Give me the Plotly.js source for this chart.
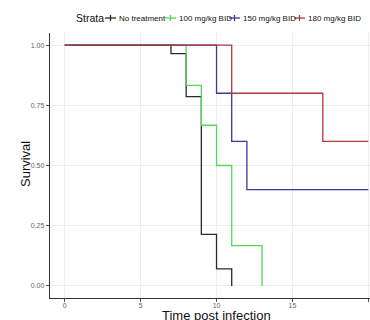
<!DOCTYPE html>
<html><head><meta charset="utf-8">
<script src="https://cdn.plot.ly/plotly-3.0.1.min.js"></script>
<style>html,body{margin:0;padding:0;background:#fff}</style>
</head><body><div id="chart" style="width:370px;height:320px"></div>
<script>
// ---- data ----
const strata = ["No treatment", "100 mg/kg BID", "150 mg/kg BID", "180 mg/kg BID"];
const timeNoTreat = [0, 7, 8, 9, 10, 11];
const survNoTreat = [1, 0.964, 0.786, 0.214, 0.071, 0];
const time100 = [0, 8, 9, 10, 11, 13];
const surv100 = [1, 0.833, 0.667, 0.5, 0.167, 0];
const time150 = [0, 10, 11, 12, 20];
const surv150 = [1, 0.8, 0.6, 0.4, 0.4];
const time180 = [0, 11, 17, 20];
const surv180 = [1, 0.8, 0.6, 0.6];
const xTicks = [0, 5, 10, 15, 20];
const yTicks = [0, 0.25, 0.5, 0.75, 1];
const yTickText = ["0.00", "0.25", "0.50", "0.75", "1.00"];

// ---- style ----
const colors = ["#2a2a2a", "#55d855", "#3a3a9e", "#b23a3a"];
const FONT = "Liberation Sans, Arial, sans-serif";
const series = [[timeNoTreat, survNoTreat], [time100, surv100], [time150, surv150], [time180, surv180]];

const traces = series.map((s, i) => ({
  x: s[0], y: s[1], type: "scatter", mode: "lines",
  line: {shape: "hv", color: colors[i], width: 1.3},
  name: strata[i], showlegend: false, hoverinfo: "skip"
}));

// pixel -> paper helpers (plot area x 50..370, y 33..298)
const L = 50, R = 370, T = 33, B = 298;
const px = p => (p - L) / (R - L);
const py = p => (B - p) / (B - T);

// manual legend layout
const legY = 18;
const keyStart = [105, 165, 229, 294];
const keyLen = 11;
const shapes = [];
const annotations = [];
annotations.push({xref: "paper", yref: "paper", x: px(74), y: py(legY), xanchor: "left", yanchor: "middle",
  text: "Strata", showarrow: false, font: {family: FONT, size: 10.5, color: "#111"}});
strata.forEach((s, i) => {
  const k = keyStart[i];
  shapes.push({type: "line", xref: "paper", yref: "paper", x0: px(k), x1: px(k + keyLen), y0: py(legY), y1: py(legY),
    line: {color: colors[i], width: 1.3}});
  shapes.push({type: "line", xref: "paper", yref: "paper", x0: px(k + keyLen / 2), x1: px(k + keyLen / 2), y0: py(legY - 3), y1: py(legY + 3),
    line: {color: colors[i], width: 1.3}});
  annotations.push({xref: "paper", yref: "paper", x: px(k + keyLen + 0.5), y: py(legY), xanchor: "left", yanchor: "middle",
    text: s, showarrow: false, font: {family: FONT, size: 8, color: "#111"}});
});
// axis titles
annotations.push({xref: "paper", yref: "paper", x: px(216.5), y: py(315), xanchor: "center", yanchor: "middle",
  text: "Time post infection", showarrow: false, font: {family: FONT, size: 13, color: "#111"}});
annotations.push({xref: "paper", yref: "paper", x: px(25), y: py(164), xanchor: "center", yanchor: "middle", textangle: -90,
  text: "Survival", showarrow: false, font: {family: FONT, size: 13, color: "#111"}});

const layout = {
  width: 370, height: 320,
  margin: {l: L, r: 370 - R, t: T, b: 320 - B, pad: 0},
  paper_bgcolor: "#fff", plot_bgcolor: "#fff",
  showlegend: false,
  font: {family: FONT},
  xaxis: {range: [-0.97, 20.11], tickvals: xTicks, ticktext: xTicks.map(String),
    showgrid: true, gridcolor: "#ededed", gridwidth: 1, zeroline: false,
    showline: true, linecolor: "#333", linewidth: 1.2,
    ticks: "outside", ticklen: 3, tickcolor: "#555", tickwidth: 1,
    ticklabelstandoff: -3,
    tickfont: {family: FONT, size: 7, color: "#666"}},
  yaxis: {range: [-0.05, 1.05], tickvals: yTicks, ticktext: yTickText,
    showgrid: true, gridcolor: "#ededed", gridwidth: 1, zeroline: false,
    showline: true, linecolor: "#333", linewidth: 1.2,
    ticks: "outside", ticklen: 3, tickcolor: "#555", tickwidth: 1,
    tickfont: {family: FONT, size: 7, color: "#666"}},
  shapes: shapes,
  annotations: annotations
};

Plotly.newPlot("chart", traces, layout, {staticPlot: true, displayModeBar: false});
</script>
</body></html>
